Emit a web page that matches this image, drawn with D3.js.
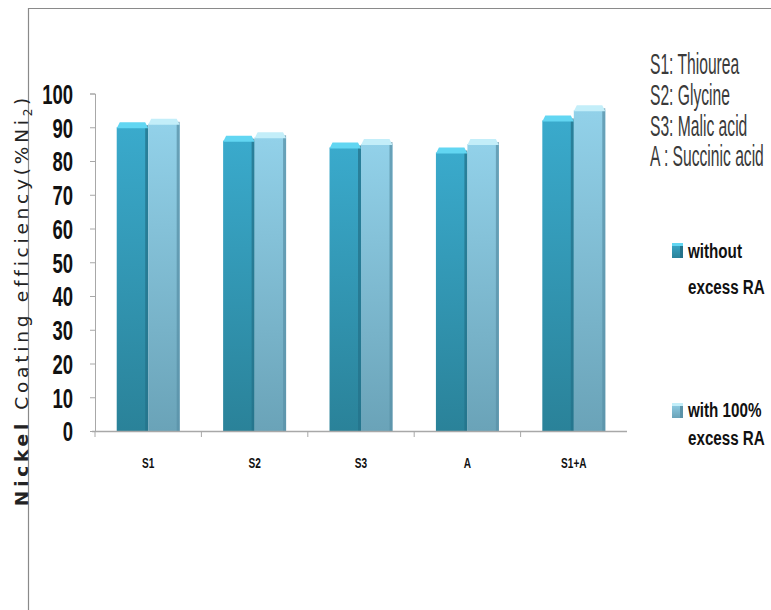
<!DOCTYPE html>
<html>
<head>
<meta charset="utf-8">
<script src="https://cdn.jsdelivr.net/npm/d3@7"></script>
<style>
  html, body { margin: 0; padding: 0; background: #fff; }
  svg { display: block; }
</style>
</head>
<body>
<script>
// Complexing agents and nickel coating efficiency (%) per electrolyte
const categories = ["S1", "S2", "S3", "A", "S1+A"];
const seriesNames = ["without excess RA", "with 100% excess RA"];
const withoutExcess = [91.5, 87.5, 85.5, 84, 93.5];
const withExcess = [92.5, 88.5, 86.5, 86.5, 96.5];
const yTicks = [0, 10, 20, 30, 40, 50, 60, 70, 80, 90, 100];
const agentNotes = ["S1: Thiourea", "S2: Glycine", "S3: Malic acid", "A : Succinic acid"];

const W = 771, H = 610;
const svg = d3.select("body").append("svg").attr("width", W).attr("height", H);
const SANS = "'Liberation Sans', Arial, sans-serif";

// narrow-font look: squeeze a text horizontally about its own x
function squeeze(textSel, s) {
  textSel.each(function () {
    const t = d3.select(this);
    const x = +t.attr("x") || 0;
    t.attr("transform", `translate(${x},0) scale(${s},1) translate(${-x},0)`);
  });
}

// bar fills
const defs = svg.append("defs");
const palettes = [
  { top: "#3aaacc", bottom: "#2a8299", cap: "#62d6f2", edge: "#24728a" },
  { top: "#92d1e9", bottom: "#6aa3b8", cap: "#c3eef9", edge: "#5a92a8" }
];
palettes.forEach((p, i) => {
  const g = defs.append("linearGradient").attr("id", "face" + i)
    .attr("x1", 0).attr("y1", 0).attr("x2", 0).attr("y2", 1);
  g.append("stop").attr("offset", "0%").attr("stop-color", p.top);
  g.append("stop").attr("offset", "100%").attr("stop-color", p.bottom);
});

// outer frame lines
svg.append("line").attr("x1", 28).attr("x2", W).attr("y1", 8.5).attr("y2", 8.5)
  .attr("stroke", "#8a8a8a").attr("stroke-width", 1.2);
svg.append("line").attr("x1", 28.5).attr("x2", 28.5).attr("y1", 8).attr("y2", H)
  .attr("stroke", "#8a8a8a").attr("stroke-width", 1.2);

const x0 = d3.scaleBand().domain(categories).range([95, 627]);
const x1 = d3.scaleBand().domain([0, 1]).range([0, x0.bandwidth()]).paddingOuter(0.69);
const y = d3.scaleLinear().domain([0, 100]).range([431, 93.5]);

// y axis
const yAxis = svg.append("g").attr("transform", "translate(95,0)")
  .call(d3.axisLeft(y).tickValues(yTicks).tickSize(5).tickPadding(17));
yAxis.select(".domain").attr("stroke", "#a8a8a8");
yAxis.selectAll(".tick line").attr("stroke", "#a8a8a8");
const yLabels = yAxis.selectAll(".tick text")
  .attr("font-family", SANS).attr("font-weight", "bold")
  .attr("font-size", 28).attr("fill", "#111").attr("dy", "0.35em");
squeeze(yLabels, 0.66);

// bars
const data = categories.map((c, i) => ({ cat: c, vals: [withoutExcess[i], withExcess[i]] }));
const groups = svg.append("g").selectAll("g").data(data).join("g")
  .attr("transform", d => `translate(${x0(d.cat)},0)`);

groups.each(function (d) {
  const g = d3.select(this);
  d.vals.forEach((v, s) => {
    const bx = x1(s), bw = x1.bandwidth();
    const top = y(v), base = y(0);
    const p = palettes[s];
    const capH = 6;
    g.append("rect").attr("x", bx).attr("y", top + capH - 1).attr("width", bw)
      .attr("height", base - top - capH + 1).attr("fill", `url(#face${s})`);
    g.append("rect").attr("x", bx + bw - 3).attr("y", top + 3).attr("width", 3)
      .attr("height", base - top - 3).attr("fill", p.edge).attr("opacity", 0.75);
    g.append("path")
      .attr("d", `M${bx},${top + capH} L${bx + 3},${top} L${bx + bw - 3},${top} L${bx + bw},${top + capH} Z`)
      .attr("fill", p.cap);
  });
});

// x axis
const xAxis = svg.append("g").attr("transform", "translate(0,431)");
xAxis.append("line").attr("x1", 92).attr("x2", 627).attr("y1", 0.5).attr("y2", 0.5)
  .attr("stroke", "#a8a8a8").attr("stroke-width", 1.3);
xAxis.selectAll("line.tk").data(categories).join("line").attr("class", "tk")
  .attr("x1", d => x0(d)).attr("x2", d => x0(d)).attr("y1", 0).attr("y2", 6)
  .attr("stroke", "#a8a8a8");
const xLabels = xAxis.selectAll("text").data(categories).join("text")
  .attr("x", d => x0(d) + x0.bandwidth() / 2).attr("y", 37)
  .attr("text-anchor", "middle")
  .attr("font-family", SANS).attr("font-weight", "bold")
  .attr("font-size", 14).attr("fill", "#111")
  .text(d => d);
squeeze(xLabels, 0.72);

// y axis title, spread along the axis
const title = svg.append("text")
  .attr("transform", "translate(28,300) rotate(-90)")
  .attr("text-anchor", "middle")
  .attr("font-family", "'DejaVu Sans', Verdana, sans-serif")
  .attr("font-size", 18.5).attr("fill", "#222");
title.append("tspan").attr("font-weight", "bold").text("Nickel ");
title.append("tspan").text("Coating efficiency(%Ni");
title.append("tspan").attr("font-size", 12).attr("dy", 4).text("2");
title.append("tspan").attr("dy", -4).text(")");
{
  const n = "Nickel Coating efficiency(%Ni2)".length;
  const len = title.node().getComputedTextLength();
  title.attr("letter-spacing", Math.max(0, (412 - len) / n));
}

// agent key
const notes = svg.append("g").selectAll("text").data(agentNotes).join("text")
  .attr("x", 650).attr("y", (d, i) => [74, 105, 136, 166][i])
  .attr("font-family", SANS).attr("font-size", 29).attr("fill", "#3a3a3a")
  .text(d => d);
{
  const ref = notes.filter((d, i) => i === 1).node().getComputedTextLength();
  squeeze(notes, 80 / ref);
}

// series legend
const legendTop = [243, 403];
const lineY = [[258, 294], [417, 445]];
const lg = svg.append("g").selectAll("g").data(seriesNames).join("g");
lg.append("rect").attr("x", 672).attr("y", (d, i) => legendTop[i]).attr("width", 11).attr("height", 15)
  .attr("fill", (d, i) => `url(#face${i})`);
lg.append("rect").attr("x", 680).attr("y", (d, i) => legendTop[i]).attr("width", 3).attr("height", 15)
  .attr("fill", (d, i) => palettes[i].edge);
lg.append("rect").attr("x", 672).attr("y", (d, i) => legendTop[i]).attr("width", 11).attr("height", 3)
  .attr("fill", (d, i) => palettes[i].cap);
const lines = [];
lg.each(function (d, i) {
  const g = d3.select(this);
  const parts = [d.replace(" excess RA", ""), "excess RA"];
  parts.forEach((txt, k) => {
    lines.push(g.append("text").attr("x", 688).attr("y", lineY[i][k])
      .attr("font-family", SANS).attr("font-weight", "bold")
      .attr("font-size", 21).attr("fill", "#111").text(txt));
  });
});
{
  const ref = lines[0].node().getComputedTextLength();
  lines.forEach(t => squeeze(t, 54 / ref));
}
</script>
</body>
</html>
